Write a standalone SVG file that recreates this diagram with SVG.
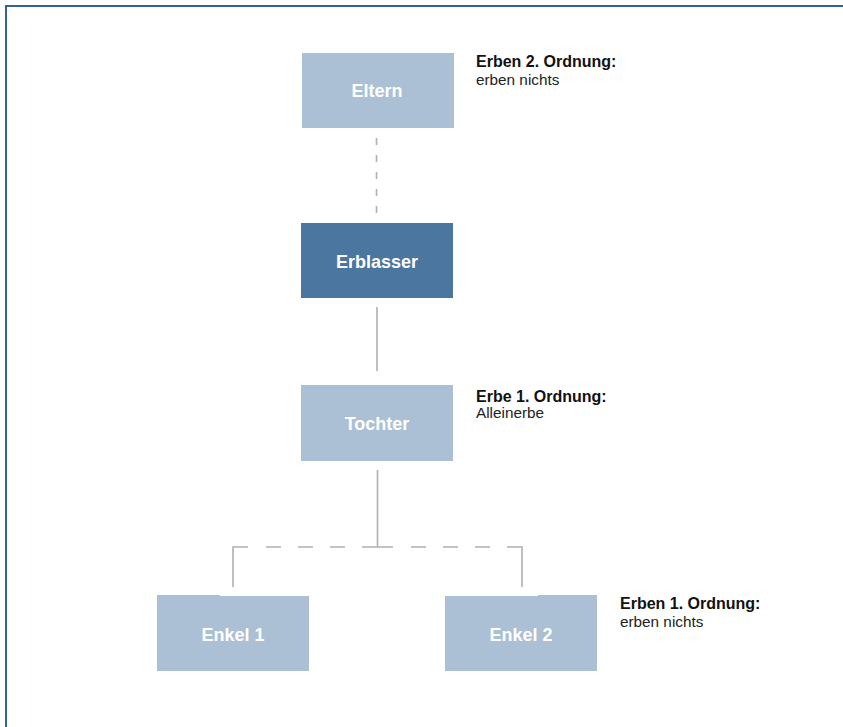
<svg xmlns="http://www.w3.org/2000/svg" width="843" height="727" viewBox="0 0 843 727">
  <style>
    .box { fill: #abc0d4; }
    .box-main { fill: #4a76a0; }
    .name { font-family: "Liberation Sans", Arial, sans-serif; font-weight: bold; font-size: 18px; fill: #ffffff; text-anchor: middle; }
    .head { font-family: "Liberation Sans", Arial, sans-serif; font-weight: bold; font-size: 16px; fill: #111111; }
    .note { font-family: "Liberation Sans", Arial, sans-serif; font-size: 15.3px; fill: #222222; }
    .line { fill: none; stroke: #b0b0b0; stroke-width: 1.6; }
    .dash-v { stroke-dasharray: 7 10; }
  </style>

  <rect x="0" y="0" width="843" height="727" fill="#ffffff"/>
  <!-- frame -->
  <path d="M6,727 V6 H843" fill="none" stroke="#2e6496" stroke-width="2"/>

  <!-- connectors -->
  <g id="connectors">
    <line class="line dash-v" x1="376.5" y1="138" x2="376.5" y2="214"/>
    <line class="line" x1="377" y1="307" x2="377" y2="371"/>
    <line class="line" x1="377.5" y1="470" x2="377.5" y2="547"/>
    <!-- dashed sibling bar with solid drops -->
    <path class="line" d="M233,587 V547 H248 M266,547 H281 M298,547 H313 M330,547 H345 M362,547 H393 M411,547 H426 M443,547 H458 M475,547 H490 M507,547 H522 V587"/>
  </g>

  <g id="eltern">
    <rect class="box" x="302" y="53" width="152" height="75"/>
    <text class="name" x="377" y="97">Eltern</text>
    <text class="head" x="476" y="67">Erben 2. Ordnung:</text>
    <text class="note" x="476" y="85">erben nichts</text>
  </g>

  <g id="erblasser">
    <rect class="box-main" x="301" y="223" width="152" height="75"/>
    <text class="name" x="377" y="267.5">Erblasser</text>
  </g>

  <g id="tochter">
    <rect class="box" x="301" y="385" width="152" height="76"/>
    <text class="name" x="377" y="430">Tochter</text>
    <text class="head" x="476" y="401.5">Erbe 1. Ordnung:</text>
    <text class="note" x="476" y="417.5">Alleinerbe</text>
  </g>

  <g id="enkel1">
    <path class="box" d="M157,595 H220 V596 H309 V671 H157 Z"/>
    <text class="name" x="233" y="640.5">Enkel 1</text>
  </g>

  <g id="enkel2">
    <path class="box" d="M445,596 H538 V595 H597 V671 H445 Z"/>
    <text class="name" x="521" y="640.5">Enkel 2</text>
    <text class="head" x="620" y="609">Erben 1. Ordnung:</text>
    <text class="note" x="620" y="626.5">erben nichts</text>
  </g>
</svg>
